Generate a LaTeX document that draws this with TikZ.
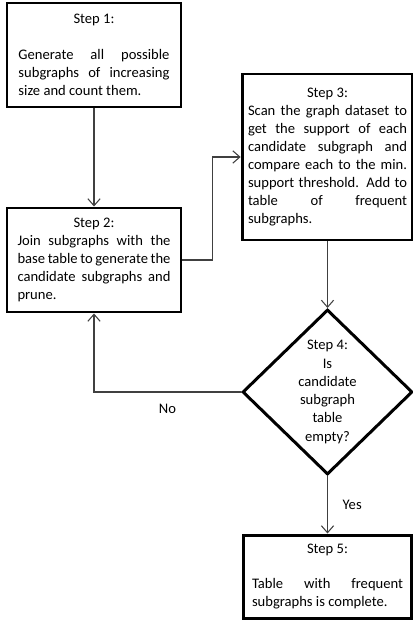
\documentclass[tikz,border=0pt]{standalone}
\usepackage{fontspec}
\setmainfont{Carlito}
\usetikzlibrary{arrows.meta,shapes.geometric}
\tikzset{
  every picture/.style={line join=miter, >={Straight Barb[length=4pt,width=7pt]}},
  stepbox/.style={draw, line width=1.7pt, align=justify, inner ysep=0pt, font=\fontsize{8.3}{10.2}\selectfont},
  decision/.style={draw, diamond, line width=1.7pt, inner sep=0pt, minimum width=3.4cm, minimum height=3.3cm, align=center, font=\fontsize{8.3}{10.4}\selectfont},
  flow/.style={->, line width=0.6pt, black!75},
  tag/.style={text=black, font=\fontsize{8.3}{10.2}\selectfont},
}
\newcommand{\steptitle}[1]{{\centering Step #1:\par}}

\begin{document}
\begin{tikzpicture}
\useasboundingbox (0,0) rectangle (8.26,-12.44);
\node[stepbox, text width=3.02cm, minimum width=3.48cm, minimum height=2.08cm] (s1) at (1.88,-1.10) {\steptitle{1}\vspace{\baselineskip}Generate all possible\linebreak subgraphs of increasing\linebreak size and count them.};
\node[stepbox, text width=3.06cm, minimum width=3.48cm, minimum height=2.08cm] (s2) at (1.88,-5.20) {\steptitle{2}Join subgraphs with the\linebreak base table to generate the\linebreak candidate subgraphs and\linebreak prune.};
\node[stepbox, text width=3.18cm, minimum width=3.36cm, minimum height=3.32cm] (s3) at (6.55,-3.14) {\steptitle{3}Scan the graph dataset to\linebreak get the support of each\linebreak candidate subgraph and\linebreak compare each to the min.\linebreak support threshold. Add to\linebreak table of frequent\linebreak subgraphs.};
\node[decision] (s4) at (6.55,-7.84) {Step 4:\\Is\\candidate\\subgraph\\table\\empty?};
\node[stepbox, text width=3.02cm, minimum width=3.36cm, minimum height=1.66cm] (s5) at (6.55,-11.53) {\steptitle{5}\vspace{\baselineskip}Table with frequent\linebreak subgraphs is complete.};
\draw[flow] (s1) -- (s2);
\draw[flow] (s2.east) -- ++(0.6,0) |- (s3.west);
\draw[flow] (s3) -- (s4);
\draw[flow] (s4.west) -| node[tag, pos=0.25, below=3pt] {No} (s2.south);
\draw[flow] (s4.south) -- node[tag, right=5pt] {Yes} (s5.north);
\end{tikzpicture}
\end{document}
